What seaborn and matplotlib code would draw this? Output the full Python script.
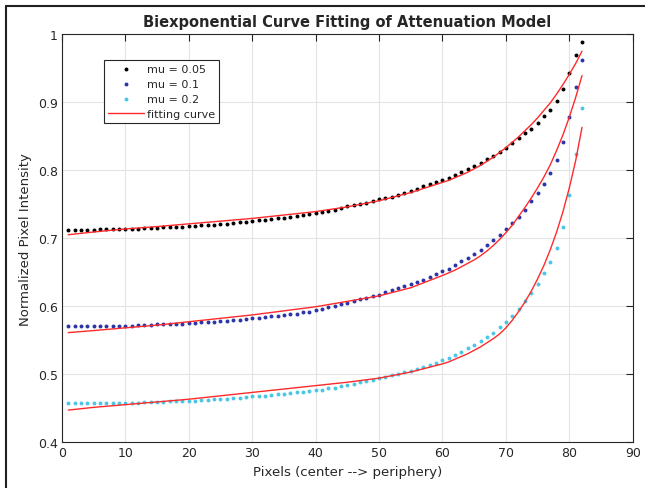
import numpy as np
import pandas as pd
import matplotlib.pyplot as plt
import seaborn as sns
from matplotlib.lines import Line2D

# pixel positions (center -> periphery)
pixels = list(range(1, 83))

# normalized intensity
mu_005 = [0.712, 0.712, 0.712, 0.712, 0.712, 0.713, 0.713, 0.713, 0.713, 0.714,
          0.714, 0.714, 0.715, 0.715, 0.715, 0.716, 0.716, 0.717, 0.717, 0.718,
          0.718, 0.719, 0.719, 0.720, 0.721, 0.721, 0.722, 0.723, 0.724, 0.725,
          0.726, 0.727, 0.728, 0.729, 0.730, 0.731, 0.732, 0.734, 0.735, 0.737,
          0.738, 0.740, 0.742, 0.744, 0.747, 0.749, 0.750, 0.752, 0.755, 0.757,
          0.759, 0.761, 0.764, 0.767, 0.770, 0.773, 0.776, 0.779, 0.782, 0.786,
          0.789, 0.793, 0.797, 0.801, 0.806, 0.811, 0.816, 0.821, 0.827, 0.833,
          0.840, 0.847, 0.854, 0.861, 0.870, 0.879, 0.888, 0.901, 0.919, 0.943,
          0.970, 0.989]

mu_01 = [0.570, 0.570, 0.570, 0.570, 0.570, 0.570, 0.570, 0.571, 0.571, 0.571,
         0.571, 0.572, 0.572, 0.572, 0.573, 0.573, 0.573, 0.574, 0.574, 0.575,
         0.575, 0.576, 0.576, 0.577, 0.578, 0.578, 0.579, 0.580, 0.581, 0.582,
         0.583, 0.584, 0.585, 0.586, 0.587, 0.588, 0.589, 0.591, 0.592, 0.594,
         0.596, 0.598, 0.600, 0.603, 0.605, 0.608, 0.610, 0.612, 0.615, 0.617,
         0.620, 0.623, 0.626, 0.629, 0.632, 0.635, 0.639, 0.643, 0.647, 0.651,
         0.655, 0.660, 0.666, 0.671, 0.676, 0.683, 0.690, 0.697, 0.704, 0.713,
         0.722, 0.731, 0.742, 0.754, 0.767, 0.780, 0.796, 0.815, 0.841, 0.878,
         0.922, 0.962]

mu_02 = [0.457, 0.457, 0.457, 0.457, 0.457, 0.457, 0.457, 0.458, 0.458, 0.458,
         0.458, 0.458, 0.459, 0.459, 0.459, 0.459, 0.460, 0.460, 0.460, 0.461,
         0.461, 0.462, 0.462, 0.463, 0.463, 0.464, 0.465, 0.465, 0.466, 0.467,
         0.468, 0.468, 0.469, 0.470, 0.471, 0.472, 0.473, 0.474, 0.475, 0.476,
         0.477, 0.479, 0.480, 0.482, 0.484, 0.486, 0.488, 0.490, 0.492, 0.494,
         0.496, 0.498, 0.500, 0.503, 0.505, 0.508, 0.511, 0.514, 0.517, 0.521,
         0.524, 0.528, 0.533, 0.538, 0.543, 0.549, 0.554, 0.561, 0.569, 0.576,
         0.586, 0.596, 0.607, 0.619, 0.633, 0.648, 0.665, 0.686, 0.717, 0.763,
         0.824, 0.891]

# fitted biexponential curves, sampled from the figure
fit_x = [1, 5, 10, 15, 20, 25, 30, 35, 40, 45, 50, 55, 60,
         61, 62, 63, 64, 65, 66, 67, 68, 69, 70, 71,
         72, 73, 74, 75, 76, 77, 78, 79, 80, 81, 82]
fit_005 = [0.705, 0.709, 0.7135, 0.717, 0.721, 0.725, 0.729, 0.734, 0.739, 0.746,
           0.755, 0.767, 0.782, 0.785, 0.789, 0.793, 0.797, 0.802, 0.807, 0.813,
           0.819, 0.826, 0.833, 0.841, 0.849, 0.858, 0.867, 0.877, 0.888, 0.899,
           0.912, 0.926, 0.941, 0.957, 0.975]
fit_01 = [0.561, 0.564, 0.568, 0.572, 0.577, 0.582, 0.587, 0.593, 0.599, 0.607,
          0.615, 0.627, 0.645, 0.649, 0.653, 0.658, 0.663, 0.668, 0.674, 0.681,
          0.689, 0.698, 0.708, 0.719, 0.732, 0.745, 0.759, 0.774, 0.790, 0.808,
          0.829, 0.852, 0.878, 0.907, 0.939]
fit_02 = [0.447, 0.451, 0.455, 0.459, 0.463, 0.468, 0.473, 0.478, 0.483, 0.488,
          0.494, 0.503, 0.515, 0.518, 0.522, 0.526, 0.530, 0.535, 0.540, 0.546,
          0.552, 0.559, 0.568, 0.579, 0.592, 0.606, 0.622, 0.640, 0.660, 0.683,
          0.709, 0.739, 0.774, 0.814, 0.863]

sns.set_style('white')
plt.rcParams['font.family'] = ['DejaVu Sans']

fig = plt.figure(figsize=(6.45, 4.89), dpi=100)
ax = fig.add_axes([0.096, 0.094, 0.885, 0.834])

sns.scatterplot(x=pixels, y=mu_005, color='black', s=8, linewidth=0, label='mu = 0.05', ax=ax)
sns.scatterplot(x=pixels, y=mu_01, color='#2b35a8', s=8, linewidth=0, label='mu = 0.1', ax=ax)
sns.scatterplot(x=pixels, y=mu_02, color='#4cc6e4', s=8, linewidth=0, label='mu = 0.2', ax=ax)
sns.lineplot(x=fit_x, y=fit_005, color='#ff2a2a', linewidth=1, label='fitting curve', ax=ax)
sns.lineplot(x=fit_x, y=fit_01, color='#ff2a2a', linewidth=1, label='_nolegend_', ax=ax)
sns.lineplot(x=fit_x, y=fit_02, color='#ff2a2a', linewidth=1, label='_nolegend_', ax=ax)

ax.set_xlim(0, 90)
ax.set_ylim(0.4, 1)
ax.set_xticks(range(0, 91, 10))
ax.set_yticks([0.4, 0.5, 0.6, 0.7, 0.8, 0.9, 1])
ax.set_yticklabels(['0.4', '0.5', '0.6', '0.7', '0.8', '0.9', '1'])
ax.grid(True, color='#e3e3e3', linewidth=0.8)
ax.tick_params(direction='in', top=True, right=True, length=5, width=0.8,
               color='#262626', labelsize=9, labelcolor='#262626', pad=3)
for s in ax.spines.values():
    s.set_color('#262626')
    s.set_linewidth(0.8)

ax.set_title('Biexponential Curve Fitting of Attenuation Model', fontsize=10.5,
             fontweight='bold', pad=6)
ax.set_xlabel('Pixels (center --> periphery)', fontsize=9.5, color='#262626')
ax.set_ylabel('Normalized Pixel Intensity', fontsize=9.5, color='#262626')

leg = ax.legend(loc='upper left', bbox_to_anchor=(0.074, 0.936), fontsize=8,
                fancybox=False, framealpha=1, edgecolor='#262626',
                borderpad=0.35, labelspacing=0.45, handlelength=3.2,
                handletextpad=0.3, markerscale=1.0, borderaxespad=0)
leg.get_frame().set_linewidth(0.8)

# frame around the whole picture (top and left edges)
fig.add_artist(Line2D([6 / 645, 1], [1 - 7 / 489, 1 - 7 / 489], color='#202020', linewidth=1.5))
fig.add_artist(Line2D([6 / 645, 6 / 645], [0, 1 - 7 / 489], color='#202020', linewidth=1.5))

fig.savefig('out.png', dpi=100)
